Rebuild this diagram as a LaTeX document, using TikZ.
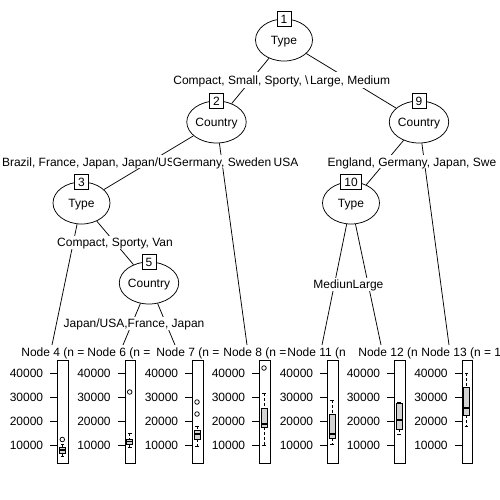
\documentclass[tikz,border=0pt]{standalone}
\usepackage{fontspec}
\setmainfont{Liberation Sans}
\usetikzlibrary{shapes.geometric}
\definecolor{boxgray}{HTML}{D3D3D3}
\newcommand{\mybxp}[6]{%
  \draw[dash pattern=on 3pt off 2pt] (#1,#2) -- (#1,#3) (#1,#5) -- (#1,#6);
  \draw (#1-1.8,#2) -- (#1+1.8,#2) (#1-1.8,#6) -- (#1+1.8,#6);
  \draw[fill=boxgray] (#1-3,#3) rectangle (#1+3,#5);
  \draw[line width=1.6pt] (#1-3,#4) -- (#1+3,#4);
}
\begin{document}
\begin{tikzpicture}[x=1pt,y=-1pt,font=\fontsize{12}{14}\selectfont,line width=0.75pt,
  innernode/.style={ellipse,draw,fill=white,minimum width=57pt,minimum height=42pt,inner sep=0pt,text height=8.6pt,text depth=0pt},
  idbox/.style={draw,fill=white,inner xsep=3.5pt,inner ysep=3pt,minimum width=14pt,text height=8.6pt,text depth=0pt},
  elabel/.style={fill=white,inner xsep=1pt,inner ysep=2.2pt,text height=8.6pt,text depth=0pt},
  ttl/.style={anchor=west,fill=white,inner xsep=1pt,inner ysep=2pt,text height=8.6pt,text depth=0pt},
  ticklab/.style={inner sep=0pt,text height=8.6pt,text depth=0pt,anchor=east},
  panelbox/.style={draw,anchor=north west,minimum width=10.5pt,minimum height=103.5pt,inner sep=0pt},
  conn/.style={draw}
]
\useasboundingbox[fill=white] (0,0) rectangle (500,500);

% inner nodes
\node[innernode] (n1) at (284,40) {Type};
\node[innernode] (n2) at (216.5,122) {Country};
\node[innernode] (n9) at (419,122) {Country};
\node[innernode] (n3) at (81.5,203) {Type};
\node[innernode] (n10) at (351,203) {Type};
\node[innernode] (n5) at (149,283) {Country};

% terminal tops
\coordinate (t4) at (52,345);
\coordinate (t6) at (123,345);
\coordinate (t7) at (175,345);
\coordinate (t8) at (247,345);
\coordinate (t11) at (322,345);
\coordinate (t12) at (381,345);
\coordinate (t13) at (449,345);

% connectors
\path[conn] (n1) -- (n2);
\path[conn] (n1) -- (n9);
\path[conn] (n2) -- (n3);
\path[conn] (n2) -- (t8);
\path[conn] (n3) -- (t4);
\path[conn] (n3) -- (n5);
\path[conn] (n5) -- (t6);
\path[conn] (n5) -- (t7);
\path[conn] (n9) -- (n10);
\path[conn] (n9) -- (t13);
\path[conn] (n10) -- (t11);
\path[conn] (n10) -- (t12);

% edge labels
\node[elabel,anchor=west,minimum height=16pt] (l1) at (172,80.2) {Compact, Small, Sporty, \textbackslash\kern1.5pt Large, Medium};
\node[elabel,anchor=west] (l2a) at (0.7,161.7) {Brazil, France, Japan, Japan/US};
\node[elabel] (l2b) at (222,161.7) {Germany, Sweden};
\node[elabel] (l2c) at (286,161.7) {USA};
\node[elabel,anchor=west] (l2d) at (326.3,161.7) {England, Germany, Japan, Swe};
\node[elabel] (l3a) at (115,242.4) {Compact, Sporty, Van};
\node[elabel,anchor=west] (l3b) at (312,284) {MediunLarge};
\node[elabel,anchor=west] (l4) at (62.3,323.2) {Japan/USA,France, Japan};

% id boxes
\node[idbox] (id1) at (284,19) {1};
\node[idbox] (id2) at (216.5,101) {2};
\node[idbox] (id9) at (419,101) {9};
\node[idbox] (id3) at (81.5,182) {3};
\node[idbox] (id10) at (351,182) {10};
\node[idbox] (id5) at (149,262) {5};

% terminal titles
\node[ttl] (h4) at (20,352.4) {Node 4 (n =};
\node[ttl] (h6) at (86,352.4) {Node 6 (n =};
\node[ttl] (h7) at (155,352.4) {Node 7 (n =};
\node[ttl] (h8) at (222,352.4) {Node 8 (n =};
\node[ttl] (h11) at (286,352.4) {Node 11 (n};
\node[ttl] (h12) at (357,352.4) {Node 12 (n};
\node[ttl] (h13) at (420,352.4) {Node 13 (n = 1};

% panels with axes
\foreach \L [count=\i] in {57,124.5,192,259,327,394,461.5} {
  \node[panelbox] (p\i) at (\L,359.5) {};
  \foreach \v/\yy in {10000/445.5,20000/421.4,30000/397.3,40000/373.2} {
    \draw (\L-7,\yy) -- (\L,\yy);
    \node[ticklab] (tk\i-\v) at (\L-13.5,\yy) {\v};
  }
}

% boxplots
\mybxp{62.3}{444}{447}{450}{453}{456}
\draw (62.3,439.5) circle[radius=2.3pt];
\mybxp{129.7}{433}{439}{441.5}{444}{447}
\draw (129.7,392) circle[radius=2.3pt];
\mybxp{197}{426}{430}{434}{439}{446}
\draw (197,402) circle[radius=2.3pt];
\draw (197,414) circle[radius=2.3pt];
\mybxp{264}{393}{408}{424}{427}{445}
\draw (264,368) circle[radius=2.3pt];
\mybxp{332}{400}{414}{434}{438}{444}
\mybxp{399}{402}{403}{420}{429}{434}
\mybxp{466.5}{373}{387}{408}{415}{426}
\end{tikzpicture}
\end{document}
